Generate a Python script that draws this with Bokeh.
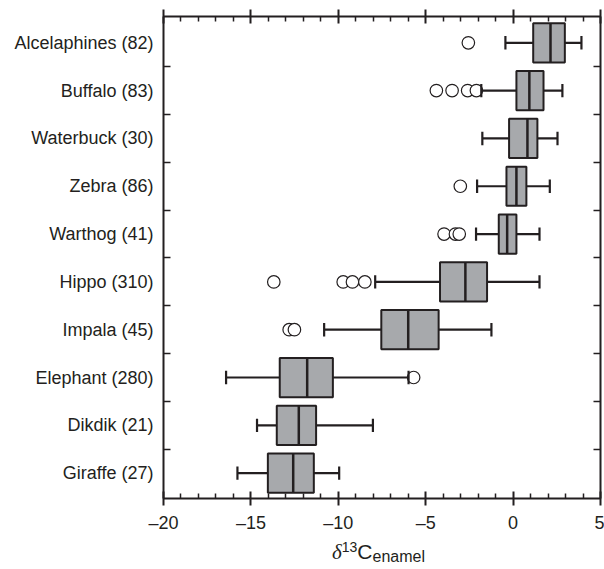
from bokeh.plotting import figure
from bokeh.layouts import column
from bokeh.models import FixedTicker, LinearAxis, ColumnDataSource, Div
from bokeh.embed import file_html
from bokeh.resources import INLINE

# ---------------- data (top to bottom) ----------------
categories = ["Alcelaphines (82)", "Buffalo (83)", "Waterbuck (30)", "Zebra (86)",
              "Warthog (41)", "Hippo (310)", "Impala (45)", "Elephant (280)",
              "Dikdik (21)", "Giraffe (27)"]
whisker_low = [-0.44, -1.82, -1.76, -2.06, -2.12, -7.89, -10.81, -16.42, -14.65, -15.77]
q1 = [1.15, 0.19, -0.23, -0.38, -0.82, -4.18, -7.54, -13.35, -13.52, -14.03]
median = [2.14, 0.93, 0.82, 0.19, -0.34, -2.73, -6.00, -11.78, -12.26, -12.58]
q3 = [2.96, 1.74, 1.39, 0.76, 0.19, -1.49, -4.26, -10.31, -11.27, -11.40]
whisker_high = [3.91, 2.82, 2.54, 2.10, 1.51, 1.51, -1.24, -5.98, -8.02, -9.95]
outliers = [[-2.56], [-4.39, -3.49, -2.60, -2.10], [], [-3.02],
            [-3.95, -3.30, -3.08], [-13.69, -9.72, -9.19, -8.48],
            [-12.81, -12.51], [-5.69], [], []]
x_ticks = [-20, -15, -10, -5, 0, 5]
x_tick_labels = ["\u201320", "\u201315", "\u201310", "\u20135", "0", "5"]

# ---------------- styling ----------------
INK = "#231f20"
BOX_FILL = "#a7a9ac"
FONT = "Liberation Sans"
BOX_H = 0.82
CAP_H = 0.28

n = len(categories)
pos = [n - i for i in range(n)]  # Alcelaphines at top

src = ColumnDataSource(dict(
    y=pos, low=whisker_low, q1=q1, med=median, q3=q3, high=whisker_high,
    y0=[v - BOX_H / 2 for v in pos], y1=[v + BOX_H / 2 for v in pos],
    c0=[v - CAP_H / 2 for v in pos], c1=[v + CAP_H / 2 for v in pos],
))

ox, oy = [], []
for yv, vals in zip(pos, outliers):
    for v in vals:
        ox.append(v)
        oy.append(yv)

p = figure(width=604, height=540, x_range=(-20, 5), y_range=(0.47, 10.55),
           output_backend="svg", toolbar_location=None,
           x_axis_location=None, y_axis_location=None,
           min_border_left=163, min_border_right=4, min_border_top=16, min_border_bottom=42)
p.grid.visible = False
p.outline_line_color = None
p.background_fill_color = "white"
p.border_fill_color = "white"

# outliers
p.scatter(ox, oy, size=12.5, marker="circle", fill_color="white", line_color=INK, line_width=1.2)

# whiskers
p.segment(x0="low", y0="y", x1="q1", y1="y", source=src, line_color=INK, line_width=2.2)
p.segment(x0="q3", y0="y", x1="high", y1="y", source=src, line_color=INK, line_width=2.2)
p.segment(x0="low", y0="c0", x1="low", y1="c1", source=src, line_color=INK, line_width=2.2)
p.segment(x0="high", y0="c0", x1="high", y1="c1", source=src, line_color=INK, line_width=2.2)

# boxes
p.hbar(y="y", left="q1", right="q3", height=BOX_H, source=src,
       fill_color=BOX_FILL, line_color=INK, line_width=2)
p.segment(x0="med", y0="y0", x1="med", y1="y1", source=src, line_color=INK, line_width=2.5)

# ---------------- axes ----------------
x_minor = [v for v in range(-20, 6) if v not in x_ticks]
y_minor = [v + 0.5 for v in pos[1:]]


def style(ax):
    ax.axis_line_color = INK
    ax.axis_line_width = 2
    ax.major_tick_line_color = INK
    ax.minor_tick_line_color = INK
    ax.major_tick_line_width = 2
    ax.minor_tick_line_width = 1.5
    ax.major_label_text_font = FONT
    ax.major_label_text_color = INK
    ax.major_label_text_font_size = "18px"


# bottom: labelled
bx = LinearAxis(ticker=FixedTicker(ticks=x_ticks, minor_ticks=x_minor),
                major_label_overrides=dict(zip(x_ticks, x_tick_labels)),
                major_tick_in=7, major_tick_out=7, minor_tick_in=5, minor_tick_out=0,
                major_label_standoff=7)
style(bx)
p.add_layout(bx, "below")

# top: mirrored ticks, empty labels
tx = LinearAxis(ticker=FixedTicker(ticks=x_ticks, minor_ticks=x_minor),
                major_label_overrides={v: "" for v in x_ticks},
                major_tick_in=7, major_tick_out=7, minor_tick_in=5, minor_tick_out=0,
                major_label_standoff=0)
style(tx)
tx.major_label_text_font_size = "0px"
p.add_layout(tx, "above")

# left: category labels, separator ticks between rows
ly = LinearAxis(ticker=FixedTicker(ticks=pos, minor_ticks=y_minor),
                major_label_overrides=dict(zip(pos, categories)),
                major_tick_in=0, major_tick_out=0, minor_tick_in=7, minor_tick_out=0,
                major_label_standoff=10)
style(ly)
p.add_layout(ly, "left")

# right: separator ticks only (no labels)
ry = LinearAxis(ticker=FixedTicker(ticks=[], minor_ticks=y_minor),
                major_tick_in=0, major_tick_out=0, minor_tick_in=7, minor_tick_out=0,
                major_label_standoff=0)
style(ry)
p.add_layout(ry, "right")

# ---------------- x-axis title: delta 13 C enamel ----------------
title_html = (
    '<div style="font-family:\'Liberation Sans\';font-size:21px;line-height:24px;'
    'color:#231f20;white-space:nowrap;padding-left:332px;">'
    '<span style="font-family:\'Liberation Serif\';font-style:italic;">&#948;</span>'
    '<span style="font-size:14px;position:relative;top:-7.5px;">13</span>'
    'C'
    '<span style="font-size:16px;position:relative;top:3.4px;">enamel</span>'
    '</div>'
)
title = Div(text=title_html, width=604, height=29, margin=(0, 0, 0, 0))

layout = column(p, title, spacing=0)
open("out.html", "w").write(file_html(layout, INLINE))
